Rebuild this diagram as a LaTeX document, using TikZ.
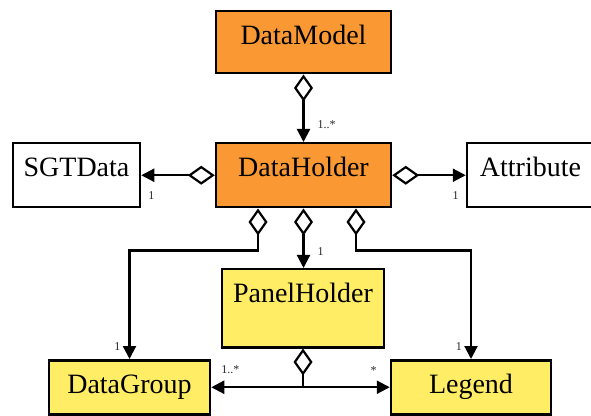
\documentclass[tikz,border=0pt]{standalone}
\usepackage{fontspec}
\setmainfont{Liberation Serif}
\usetikzlibrary{arrows.meta}
\definecolor{holderorange}{RGB}{250,153,51}
\definecolor{panelyellow}{RGB}{255,237,102}

\begin{document}
\begin{tikzpicture}[x=1pt, y=1pt,
  klass/.style={draw, line width=2.5pt, anchor=north, inner sep=0pt,
    text height=33pt, font=\fontsize{28}{32}\selectfont},
  conn/.style={line width=2.2pt},
  agg/.style={conn, {Diamond[open,length=27pt,width=19pt]}-{Triangle[length=13pt,width=13pt]}},
  hasa/.style={conn, {Diamond[open,length=27pt,width=19pt]}-},
  nav/.style={conn, -{Triangle[length=13pt,width=13pt]}},
  mult/.style={font=\fontsize{12}{13}\selectfont, text=black!85, inner sep=1pt}]
 \useasboundingbox (0,0) rectangle (591,415);

 \node[klass, fill=holderorange, minimum width=175pt, text depth=29pt] (datamodel) at (303.5,405) {DataModel};
 \node[klass, fill=holderorange, minimum width=175pt, text depth=31pt] (dataholder) at (303.5,273) {DataHolder};
 \node[klass, minimum width=127pt, text depth=31pt] (sgtdata) at (76.5,273) {SGTData};
 \node[klass, minimum width=127pt, text depth=31pt] (attribute) at (530.5,273) {Attribute};
 \node[klass, fill=panelyellow, minimum width=162pt, text depth=45pt] (panelholder) at (303,147) {PanelHolder};
 \node[klass, fill=panelyellow, minimum width=161pt, text depth=21pt] (datagroup) at (129.5,56) {DataGroup};
 \node[klass, fill=panelyellow, minimum width=160pt, text depth=21pt] (legend) at (471,56) {Legend};

 \draw[agg] (datamodel) -- (dataholder)
   node[mult, pos=1, anchor=south west, xshift=12pt, yshift=11pt] {1..*};
 \draw[agg] (dataholder) -- (sgtdata)
   node[mult, pos=1, anchor=north west, xshift=5pt, yshift=-14pt] {1};
 \draw[agg] (dataholder) -- (attribute)
   node[mult, pos=1, anchor=north east, xshift=-5pt, yshift=-14pt] {1};
 \draw[agg] (dataholder.south) -- (dataholder.south |- panelholder.north)
   node[mult, pos=1, anchor=south west, xshift=12pt, yshift=10pt] {1};
 \draw[agg] ([xshift=-45.5pt]dataholder.south) -- ++(0,-42) -| (datagroup.north)
   node[mult, pos=1, anchor=south east, xshift=-7pt, yshift=6pt] {1};
 \draw[agg] ([xshift=52.5pt]dataholder.south) -- ++(0,-42) -| (legend.north)
   node[mult, pos=1, anchor=south east, xshift=-7pt, yshift=6pt] {1};

 % panel holder owns groups and legends
 \draw[hasa] (panelholder.south) -- (panelholder.south |- datagroup.east) coordinate (fork);
 \draw[nav] (fork) -- (datagroup.east)
   node[mult, pos=1, anchor=south west, xshift=8pt, yshift=11pt] {1..*};
 \draw[nav] (fork) -- (legend.west)
   node[mult, pos=1, anchor=south east, xshift=-11pt, yshift=11pt] {*};
\end{tikzpicture}
\end{document}
